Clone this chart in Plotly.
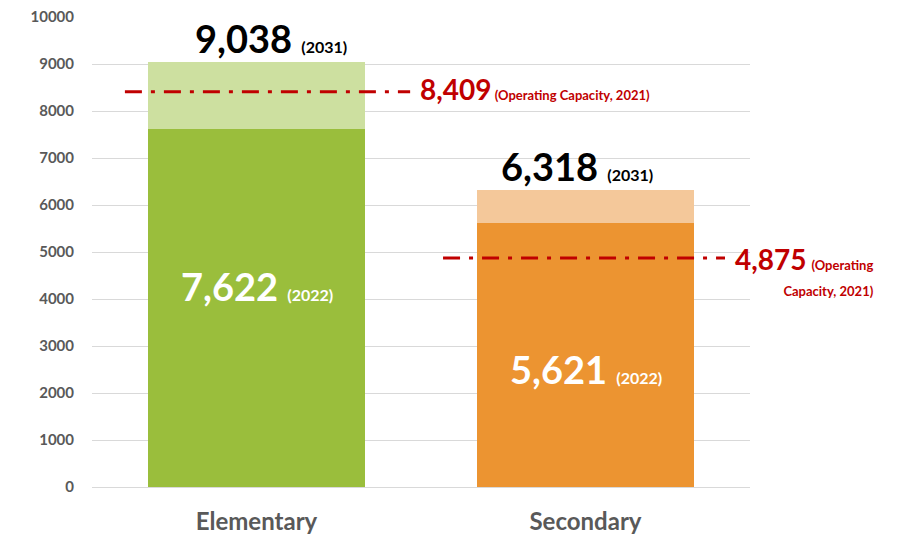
import plotly.graph_objects as go

categories = ["Elementary", "Secondary"]
enrolment_2022 = [7622, 5621]
projected_2031 = [9038, 6318]
capacity_2021 = [8409, 4875]

dark_colors = ["#9ABE3C", "#EC9431"]
light_colors = ["#CDE0A0", "#F4C89A"]
y_ticks = [0, 1000, 2000, 3000, 4000, 5000, 6000, 7000, 8000, 9000, 10000]

RED = "#C00000"
FONT = "Lato"

growth = [p - c for p, c in zip(projected_2031, enrolment_2022)]

fig = go.Figure()
fig.add_trace(go.Bar(x=categories, y=enrolment_2022, marker=dict(color=dark_colors, line=dict(width=0)),
                     hoverinfo="skip", showlegend=False))
fig.add_trace(go.Bar(x=categories, y=growth, marker=dict(color=light_colors, line=dict(width=0)),
                     hoverinfo="skip", showlegend=False))

annotations = []
# projected totals above bars
total_xshift = [14, -9]
for i, cat in enumerate(categories):
    annotations.append(dict(
        x=cat, y=projected_2031[i], xref="x", yref="y", yanchor="bottom", xanchor="center",
        xshift=total_xshift[i], yshift=-1, showarrow=False,
        text=f"<b><span style='font-size:38px'>{projected_2031[i]:,} </span>(2031)</b>",
        font=dict(family=FONT, size=16, color="#000000")))
# current values inside bars
inner_yshift = [22, -14]
for i, cat in enumerate(categories):
    annotations.append(dict(
        x=cat, y=enrolment_2022[i] / 2, xref="x", yref="y", yanchor="middle", xanchor="center",
        yshift=inner_yshift[i], showarrow=False,
        text=f"<b><span style='font-size:38px'>{enrolment_2022[i]:,} </span>(2022)</b>",
        font=dict(family=FONT, size=16, color="#FFFFFF")))

# capacity lines
line_x = [(-0.40, 0.467), (0.567, 1.424)]
shapes = []
for i in range(len(categories)):
    shapes.append(dict(type="line", xref="x", yref="y", x0=line_x[i][0], x1=line_x[i][1],
                       y0=capacity_2021[i], y1=capacity_2021[i], layer="above",
                       line=dict(color=RED, width=3, dash="17px,9px,4px,9px")))

annotations.append(dict(
    x=0.491, y=capacity_2021[0], xref="x", yref="y", xanchor="left", yanchor="middle", yshift=3,
    showarrow=False,
    text=f"<b><span style='font-size:28px'>{capacity_2021[0]:,}</span> (Operating Capacity, 2021)</b>",
    font=dict(family=FONT, size=13, color=RED)))
annotations.append(dict(
    x=1.448, y=capacity_2021[1], xref="x", yref="y", xanchor="left", yanchor="middle", yshift=-13,
    showarrow=False, align="right",
    text=f"<b><span style='font-size:28px'>{capacity_2021[1]:,}</span> <span style='font-size:13px'>(Operating</span><br><span style='font-size:13px'>Capacity, 2021)</span></b>",
    font=dict(family=FONT, size=20, color=RED)))

fig.update_layout(
    width=894, height=526, barmode="stack", bargap=0.34,
    margin=dict(l=84, r=152, t=9, b=47, autoexpand=False),
    paper_bgcolor="white", plot_bgcolor="white",
    font=dict(family=FONT),
    shapes=shapes, annotations=annotations,
    xaxis=dict(range=[-0.5, 1.5], showgrid=False, showline=False, zeroline=False,
               ticks="outside", ticklen=13, tickcolor="rgba(0,0,0,0)", ticklabeloverflow="allow",
               tickfont=dict(family=FONT, size=24, color="#595959", weight="bold")),
    yaxis=dict(range=[0, 10001], tickvals=y_ticks, ticktext=[str(v) for v in y_ticks],
               showgrid=True, gridcolor="#D9D9D9", gridwidth=1.3,
               zeroline=True, zerolinecolor="#D9D9D9", zerolinewidth=1.3, showline=False,
               ticks="outside", ticklen=14, tickcolor="rgba(0,0,0,0)", ticklabeloverflow="allow",
               tickfont=dict(family=FONT, size=15, color="#595959", weight="bold")),
)

fig.write_html("out.html", config={"displayModeBar": False})
